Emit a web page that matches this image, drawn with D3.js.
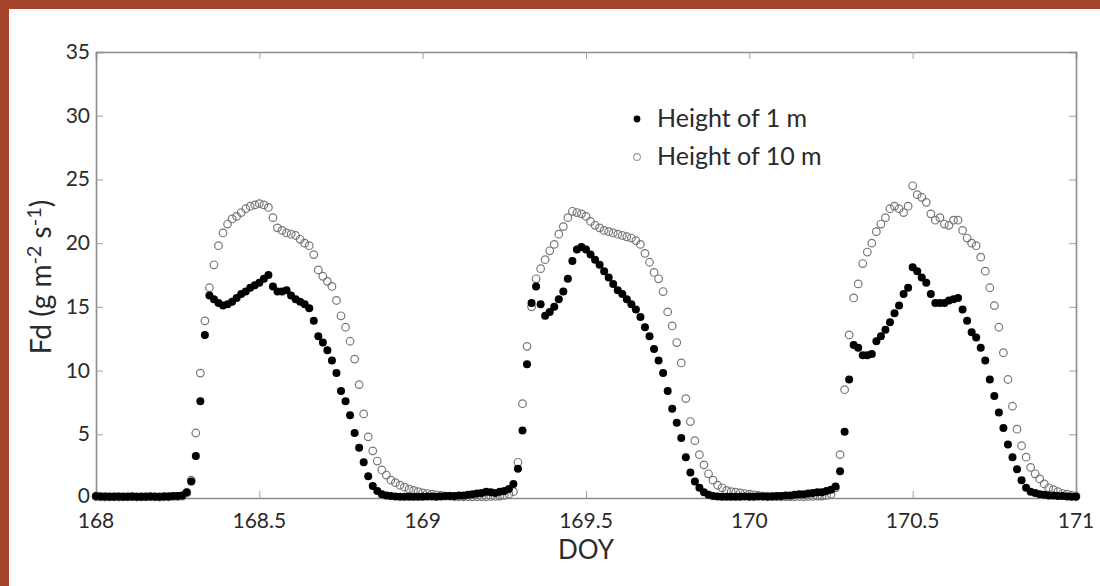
<!DOCTYPE html>
<html><head><meta charset="utf-8">
<script src="https://cdn.jsdelivr.net/npm/d3@7"></script>
<style>
html,body{margin:0;padding:0;background:#fff;}
svg{display:block;}
text{font-family:Lato,"Open Sans",sans-serif;fill:#2a2a2a;}
</style>
</head><body>
<svg id="chart" width="1100" height="586"></svg>
<script>
// ---- data ----
const xTicks = [168, 168.5, 169, 169.5, 170, 170.5, 171];
const xTickLabels = ["168", "168.5", "169", "169.5", "170", "170.5", "171"];
const yTicks = [0, 5, 10, 15, 20, 25, 30, 35];
const yTickLabels = ["0", "5", "10", "15", "20", "25", "30", "35"];
const seriesNames = ["Height of 1 m", "Height of 10 m"];
const startDoy = 168;          // first sample (DOY)
const stepMinutes = 20;        // sampling interval

// Fd at 1 m (filled dots), one value per 20-min step from DOY 168 to 171
const fd1m = [
  0.15,0.12,0.12,0.1,0.1,0.12,0.1,0.1,0.12,0.1,
  0.1,0.1,0.12,0.1,0.1,0.12,0.12,0.15,0.15,0.2,
  0.45,1.3,3.3,7.6,12.8,15.9,15.6,15.3,15.1,15.2,
  15.4,15.7,16.0,16.2,16.5,16.7,16.9,17.2,17.5,16.6,
  16.2,16.2,16.3,15.9,15.6,15.4,15.2,14.9,13.9,12.7,
  12.2,11.6,10.8,9.8,8.4,7.6,6.5,5.1,3.95,2.8,
  1.7,0.95,0.55,0.3,0.2,0.15,0.12,0.1,0.1,0.1,
  0.1,0.1,0.1,0.12,0.12,0.1,0.12,0.15,0.15,0.15,
  0.2,0.2,0.25,0.3,0.35,0.4,0.5,0.45,0.4,0.5,
  0.55,0.7,1.1,2.3,5.3,10.5,15.3,16.6,15.2,14.3,
  14.6,15.0,15.6,16.2,17.2,18.6,19.5,19.7,19.5,19.1,
  18.7,18.3,17.8,17.3,16.8,16.3,16.0,15.6,15.2,14.8,
  14.2,13.4,12.7,11.7,10.8,9.8,8.4,7.0,5.9,4.7,
  3.2,2.0,1.3,0.8,0.45,0.25,0.15,0.12,0.1,0.1,
  0.1,0.1,0.1,0.12,0.1,0.1,0.12,0.12,0.1,0.12,
  0.15,0.15,0.2,0.2,0.25,0.3,0.3,0.35,0.4,0.45,
  0.45,0.55,0.65,0.9,2.1,5.2,9.3,12.0,11.8,11.2,
  11.2,11.3,12.3,12.7,13.2,13.8,14.5,15.1,16.0,16.5,
  18.1,17.8,17.3,16.9,16.0,15.3,15.3,15.3,15.5,15.6,
  15.7,14.8,13.9,13.0,12.6,11.8,10.8,9.3,8.0,6.7,
  5.5,4.2,3.2,2.25,1.4,0.8,0.5,0.4,0.3,0.25,
  0.2,0.2,0.15,0.15,0.12,0.1,0.1
];

// Fd at 10 m (open circles)
const fd10m = [
  0.1,0.1,0.08,0.1,0.1,0.08,0.1,0.1,0.1,0.08,
  0.1,0.1,0.1,0.1,0.08,0.1,0.1,0.12,0.12,0.15,
  0.4,1.4,5.1,9.8,13.9,16.5,18.3,19.8,20.8,21.5,
  21.9,22.1,22.4,22.7,22.9,23.0,23.1,23.0,22.8,22.0,
  21.2,21.0,20.8,20.7,20.6,20.3,20.0,19.8,19.1,17.9,
  17.4,17.0,16.6,15.5,14.3,13.4,12.3,10.9,8.9,6.6,
  4.8,3.7,2.9,2.2,1.8,1.4,1.2,1.0,0.85,0.7,
  0.6,0.5,0.4,0.35,0.3,0.25,0.2,0.15,0.15,0.1,
  0.1,0.1,0.1,0.1,0.1,0.1,0.1,0.12,0.12,0.15,
  0.2,0.3,0.5,2.8,7.4,11.9,15.0,17.2,18.0,18.7,
  19.4,19.9,20.7,21.3,22.0,22.5,22.4,22.3,22.1,21.7,
  21.4,21.2,21.0,20.9,20.8,20.7,20.6,20.5,20.4,20.2,
  19.9,19.2,18.5,17.7,17.2,16.2,14.6,13.5,12.2,10.6,
  7.8,6.0,4.5,3.4,2.6,1.9,1.4,1.0,0.8,0.6,
  0.5,0.45,0.4,0.35,0.3,0.25,0.2,0.15,0.15,0.12,
  0.1,0.1,0.1,0.1,0.1,0.12,0.1,0.12,0.12,0.15,
  0.15,0.2,0.3,0.8,3.4,8.5,12.8,15.7,16.8,18.4,
  19.3,20.0,20.9,21.5,22.0,22.7,22.9,22.7,22.4,22.9,
  24.5,23.8,23.6,23.2,22.3,21.8,22.0,21.5,21.4,21.8,
  21.8,21.0,20.4,20.0,19.8,18.9,17.8,16.5,15.1,13.4,
  11.4,9.3,7.2,5.4,4.1,3.2,2.4,1.9,1.5,1.1,
  0.8,0.65,0.5,0.35,0.3,0.2,0.15
];

// ---- chart ----
const W = 1100, H = 586;
const plot = {left: 96, right: 1076, top: 52, bottom: 498};
const svg = d3.select("#chart");

// decorative frame strips
svg.append("rect").attr("x",0).attr("y",0).attr("width",W).attr("height",9).attr("fill","#a9442c");
svg.append("rect").attr("x",0).attr("y",0).attr("width",9).attr("height",H).attr("fill","#a9442c");

const x = d3.scaleLinear().domain([168, 171]).range([plot.left, plot.right]);
const y = d3.scaleLinear().domain([0, 35]).range([plot.bottom, plot.top]);

const toPoints = arr => arr.map((v, i) => ({t: startDoy + i * stepMinutes / 1440, v}));

const axisColor = "#8c8c8c", tickColor = "#a0a0a0";

// axes (ticks inward, labels drawn separately)
const gB = svg.append("g").attr("transform", `translate(0,${plot.bottom})`)
  .call(d3.axisTop(x).tickValues(xTicks).tickSize(7).tickFormat(""));
const gT = svg.append("g").attr("transform", `translate(0,${plot.top})`)
  .call(d3.axisBottom(x).tickValues(xTicks).tickSize(7).tickFormat(""));
const gL = svg.append("g").attr("transform", `translate(${plot.left},0)`)
  .call(d3.axisRight(y).tickValues(yTicks).tickSize(7).tickFormat(""));
const gR = svg.append("g").attr("transform", `translate(${plot.right},0)`)
  .call(d3.axisLeft(y).tickValues(yTicks).tickSize(7).tickFormat(""));
[gB, gT, gL, gR].forEach(g => {
  g.select(".domain").attr("stroke", axisColor).attr("stroke-width", 1.6);
  g.selectAll(".tick line").attr("stroke", tickColor).attr("stroke-width", 1);
});
gB.selectAll(".tick line").filter(d => d === 168 || d === 171).remove();
gT.selectAll(".tick line").filter(d => d === 168 || d === 171).remove();
gL.selectAll(".tick line").filter(d => d === 0 || d === 35).remove();
gR.selectAll(".tick line").filter(d => d === 0 || d === 35).remove();

// tick labels
svg.append("g").selectAll("text").data(xTicks).join("text")
  .attr("x", d => x(d)).attr("y", plot.bottom + 30)
  .attr("text-anchor", "middle").attr("font-size", 21)
  .text((d, i) => xTickLabels[i]);
svg.append("g").selectAll("text").data(yTicks).join("text")
  .attr("x", plot.left - 6).attr("y", d => y(d) + (d === 0 ? 5 : 7))
  .attr("text-anchor", "end").attr("font-size", 21)
  .text((d, i) => yTickLabels[i]);

// axis titles
svg.append("text").attr("x", (plot.left + plot.right) / 2).attr("y", 559)
  .attr("text-anchor", "middle").attr("font-size", 26).text("DOY");
const yt = svg.append("text")
  .attr("transform", `translate(51,${(plot.top + plot.bottom) / 2 + 2}) rotate(-90)`)
  .attr("text-anchor", "middle").attr("font-size", 28);
yt.append("tspan").text("Fd (g m");
yt.append("tspan").attr("dy", -10).attr("font-size", 20).text("-2");
yt.append("tspan").attr("dy", 10).text(" s");
yt.append("tspan").attr("dy", -10).attr("font-size", 20).text("-1");
yt.append("tspan").attr("dy", 10).text(")");

// series
svg.append("g").selectAll("circle").data(toPoints(fd10m)).join("circle")
  .attr("cx", d => x(d.t)).attr("cy", d => y(d.v)).attr("r", 3.8)
  .attr("fill", "none").attr("stroke", "#777").attr("stroke-width", 1.2);
svg.append("g").selectAll("circle").data(toPoints(fd1m)).join("circle")
  .attr("cx", d => x(d.t)).attr("cy", d => y(d.v)).attr("r", 4)
  .attr("fill", "#000");

// legend
const lg = svg.append("g");
const legendRows = [
  {name: seriesNames[0], filled: true, yy: 119},
  {name: seriesNames[1], filled: false, yy: 157}
];
legendRows.forEach(row => {
  lg.append("circle").attr("cx", 637).attr("cy", row.yy).attr("r", 3.4)
    .attr("fill", row.filled ? "#000" : "none")
    .attr("stroke", row.filled ? "none" : "#9a9a9a").attr("stroke-width", 1.1);
  lg.append("text").attr("x", 657).attr("y", row.yy + 8).attr("font-size", 25).text(row.name);
});
</script>
</body></html>
